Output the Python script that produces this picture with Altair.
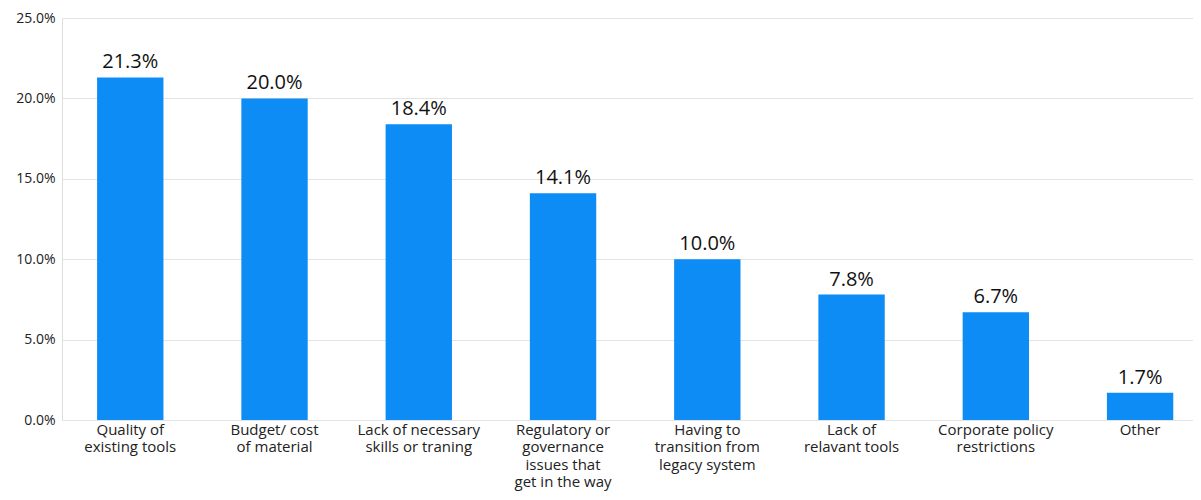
import altair as alt
import pandas as pd

categories = [
    "Quality of\nexisting tools",
    "Budget/ cost\nof material",
    "Lack of necessary\nskills or traning",
    "Regulatory or\ngovernance\nissues that\nget in the way",
    "Having to\ntransition from\nlegacy system",
    "Lack of\nrelavant tools",
    "Corporate policy\nrestrictions",
    "Other",
]
values = [21.3, 20.0, 18.4, 14.1, 10.0, 7.8, 6.7, 1.7]
y_ticks = [0, 5, 10, 15, 20, 25]

df = pd.DataFrame({"cat": categories, "val": values})
df["lbl"] = [f"{v:.1f}%" for v in values]

FONT = "Open Sans"
BLUE = "#0E8CF5"

x = alt.X(
    "cat:N",
    sort=None,
    title=None,
    scale=alt.Scale(paddingInner=0.54, paddingOuter=0.19, align=0.64),
    axis=alt.Axis(
        labelAngle=0,
        labelExpr="split(datum.label, '\\n')",
        labelFont=FONT,
        labelFontSize=15,
        labelColor="#222222",
        labelLineHeight=17.5,
        labelPadding=2,
        labelBaseline="top",
        ticks=False,
        domain=False,
        labelLimit=200,
    ),
)
y = alt.Y(
    "val:Q",
    title=None,
    scale=alt.Scale(domain=[0, 25], nice=False),
    axis=alt.Axis(
        values=y_ticks,
        labelExpr="format(datum.value, '.1f') + '%'",
        labelFont=FONT,
        labelFontSize=14,
        labelFontWeight=500,
        labelColor="#222222",
        labelPadding=7,
        ticks=False,
        domain=False,
        grid=True,
        gridColor="#E3E3E3",
        gridWidth=1,
    ),
)

bars = alt.Chart(df).mark_bar(color=BLUE).encode(x=x, y=y)
text = alt.Chart(df).mark_text(
    font=FONT, fontSize=20, color="#111111", baseline="bottom", dy=-5
).encode(x=alt.X("cat:N", sort=None), y="val:Q", text="lbl:N")

chart = (
    alt.layer(bars, text)
    .properties(
        width=1131,
        height=402,
        autosize=alt.AutoSizeParams(type="none"),
        padding={"left": 54, "top": 10, "right": 0, "bottom": 72},
    )
    .configure_view(stroke=None)
    .configure(background="white")
)

chart.save("out.html", embed_options={"renderer": "svg", "actions": False})
